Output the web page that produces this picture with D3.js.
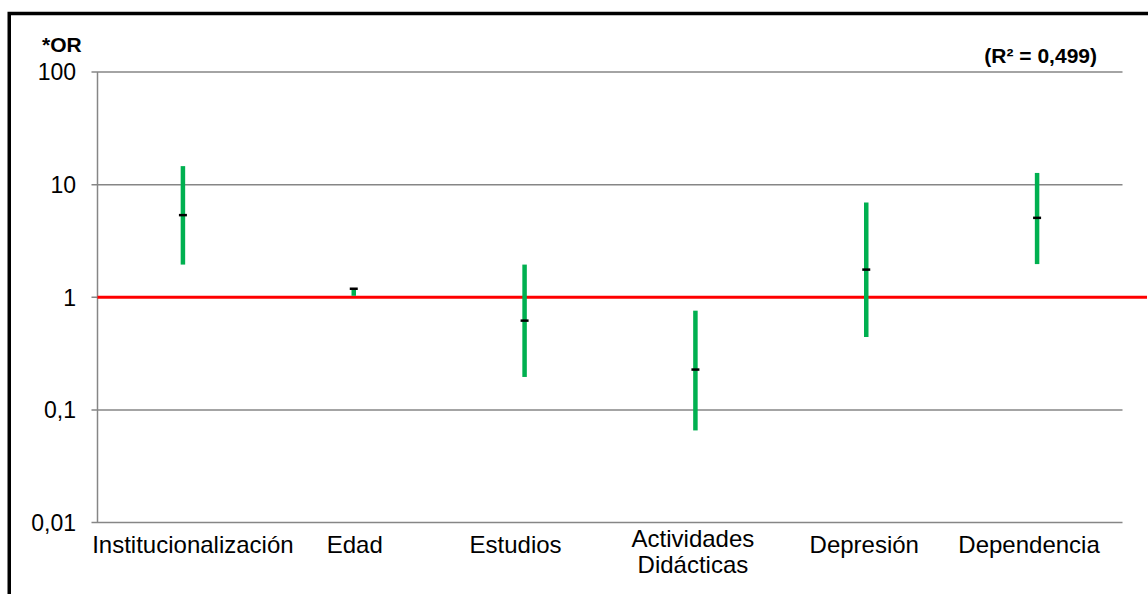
<!DOCTYPE html>
<html><head><meta charset="utf-8">
<script src="https://cdn.jsdelivr.net/npm/d3@7"></script>
<style>
html,body{margin:0;padding:0;background:#fff;}
svg{display:block;}
</style></head>
<body>
<svg id="chart" width="1148" height="594"></svg>
<script>
const categories = ["Institucionalización", "Edad", "Estudios", "Actividades\nDidácticas", "Depresión", "Dependencia"];
const orValues = [5.36, 1.19, 0.62, 0.228, 1.76, 5.07];
const ciLower = [1.95, 1.03, 0.196, 0.0657, 0.443, 1.97];
const ciUpper = [14.6, 1.2, 1.95, 0.76, 6.95, 12.7];
const tickValues = [0.01, 0.1, 1, 10, 100];
const tickLabels = ["0,01", "0,1", "1", "10", "100"];
const referenceValue = 1;
const yTitle = "*OR";
const r2Label = "(R² = 0,499)";

(function () {
const svg = d3.select("#chart");
const plotLeft = 97.5, plotRight = 1122.5, plotTop = 72, plotBottom = 522.5;
// small horizontal nudges of category labels, as laid out in the original
const labelDx = [10, 1, -9, -2.5, -2, -8];

// outer frame
svg.append("rect").attr("x", 9.25).attr("y", 13.5).attr("width", 1300).attr("height", 800)
  .attr("fill", "none").attr("stroke", "#000").attr("stroke-width", 3.5);

const x = d3.scaleBand().domain(categories).range([plotLeft, plotRight]);
const y = d3.scaleLog().domain([0.01, 100]).range([plotBottom, plotTop]);

// gridlines
svg.append("g").selectAll("line").data(tickValues).join("line")
  .attr("x1", plotLeft - 6).attr("x2", plotRight)
  .attr("y1", d => y(d)).attr("y2", d => y(d))
  .attr("stroke", "#868686").attr("stroke-width", 1.5);

// y axis line
svg.append("line").attr("x1", plotLeft).attr("x2", plotLeft).attr("y1", plotTop).attr("y2", plotBottom)
  .attr("stroke", "#868686").attr("stroke-width", 1.5);

// tick labels
svg.append("g").selectAll("text").data(tickValues).join("text")
  .attr("x", 76).attr("y", d => y(d)).attr("dy", "0.36em")
  .attr("text-anchor", "end")
  .attr("font-family", "'Liberation Sans', Arial, sans-serif").attr("font-size", 23)
  .attr("fill", "#000")
  .text((d, i) => tickLabels[i]);

// reference line
svg.append("line").attr("x1", plotLeft).attr("x2", 1147)
  .attr("y1", y(referenceValue)).attr("y2", y(referenceValue))
  .attr("stroke", "#FF0000").attr("stroke-width", 3);

// CI bars
const cx = d => x(d) + x.bandwidth() / 2;
svg.append("g").selectAll("line").data(categories).join("line")
  .attr("x1", d => cx(d)).attr("x2", d => cx(d))
  .attr("y1", (d, i) => y(ciUpper[i])).attr("y2", (d, i) => y(ciLower[i]))
  .attr("stroke", "#00B050").attr("stroke-width", 4.5);

// OR markers
svg.append("g").selectAll("line").data(categories).join("line")
  .attr("x1", d => cx(d) - 4).attr("x2", d => cx(d) + 4)
  .attr("y1", (d, i) => y(orValues[i])).attr("y2", (d, i) => y(orValues[i]))
  .attr("stroke", "#000").attr("stroke-width", 2.5);

// category labels
const catG = svg.append("g");
categories.forEach((c, ci) => {
  const lines = c.split("\n");
  const lx = cx(c) + labelDx[ci];
  const t = catG.append("text").attr("x", lx).attr("y", 553)
    .attr("text-anchor", "middle")
    .attr("font-family", "'Liberation Sans', Arial, sans-serif").attr("font-size", 24)
    .attr("fill", "#000");
  if (lines.length === 1) {
    t.text(c);
  } else {
    t.attr("y", 547);
    lines.forEach((l, i) => t.append("tspan").attr("x", lx).attr("dy", i === 0 ? 0 : 26).text(l));
  }
});

// titles
svg.append("text").attr("x", 42).attr("y", 52)
  .attr("font-family", "'Liberation Sans', Arial, sans-serif").attr("font-weight", "bold")
  .attr("font-size", 21).attr("fill", "#000").text(yTitle);

svg.append("text").attr("x", 1097).attr("y", 63).attr("text-anchor", "end")
  .attr("font-family", "'Liberation Sans', Arial, sans-serif").attr("font-weight", "bold")
  .attr("font-size", 21).attr("fill", "#000").text(r2Label);
})();
</script>
</body></html>
